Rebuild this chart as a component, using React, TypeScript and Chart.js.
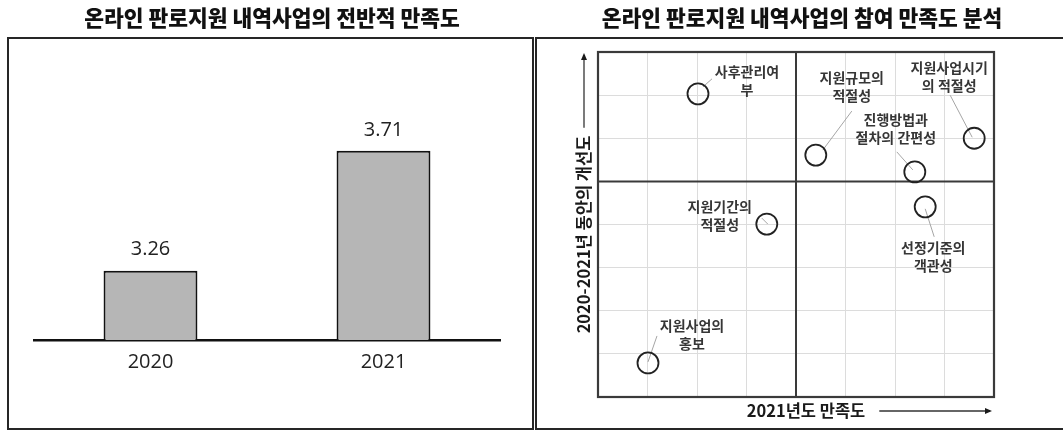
import React, { useEffect, useRef } from "react";
import { Chart, registerables } from "chart.js";

Chart.register(...registerables);

// ---------------- data ----------------
const BAR_TITLE = "온라인 판로지원 내역사업의 전반적 만족도";
const BAR_YEARS = ["2020", "2021"];
const BAR_VALUES = [3.26, 3.71];
const BAR_AXIS_MIN = 3;
const BAR_AXIS_MAX = 4;

const MAP_TITLE = "온라인 판로지원 내역사업의 참여 만족도 분석";
const MAP_X_TITLE = "2021년도 만족도";
const MAP_Y_TITLE = "2020-2021년 동안의 개선도";
const ITEM_LABELS = [
  ["사후관리여", "부"],
  ["지원규모의", "적절성"],
  ["진행방법과", "절차의 간편성"],
  ["지원사업시기", "의 적절성"],
  ["선정기준의", "객관성"],
  ["지원기간의", "적절성"],
  ["지원사업의", "홍보"],
];
const ITEM_SATISFACTION = [2.02, 4.4, 6.4, 7.6, 6.61, 3.41, 1.01];
const ITEM_IMPROVEMENT = [7.03, 5.61, 5.22, 6.0, 4.41, 4.01, 0.79];
const MAP_MIN = 0;
const MAP_MAX = 8;
const MAP_QUAD_X = 4;
const MAP_QUAD_Y = 5;

// label placement relative to each circle (pixels): text centre, first line y, leader line
const LABEL_LAYOUT = [
  { dx: 49, dy: -22, lead: [5, -7, 14, -15] },
  { dx: 36, dy: -77, lead: [7, -5, 36, -44] },
  { dx: -19, dy: -52, lead: [-2, -2, -18, -20] },
  { dx: -25, dy: -71, lead: [-2, -1, -24, -43] },
  { dx: 8, dy: 41, lead: [0, 2, 9, 30] },
  { dx: -47, dy: -17, lead: [1, 0, -5, -6] },
  { dx: 44, dy: -37, lead: [0, -1, 9, -27] },
];

const FONT_KR = '"Noto Sans CJK KR", "Noto Sans", sans-serif';
const FONT_NUM = '"Open Sans", "Noto Sans", sans-serif';

// ---------------- plugins ----------------
const barValuePlugin = {
  id: "barValues",
  afterDatasetsDraw(chart: any) {
    const ctx = chart.ctx;
    const meta = chart.getDatasetMeta(0);
    ctx.save();
    ctx.font = `20px ${FONT_NUM}`;
    ctx.fillStyle = "#222";
    ctx.textAlign = "center";
    ctx.textBaseline = "middle";
    meta.data.forEach((bar: any, i: number) => {
      ctx.fillText(BAR_VALUES[i].toFixed(2), bar.x, bar.y - 21);
    });
    ctx.restore();
  },
};

function arrowHead(ctx: any, x: number, y: number, dir: "up" | "right") {
  ctx.beginPath();
  if (dir === "up") {
    ctx.moveTo(x, y);
    ctx.lineTo(x - 3, y + 7);
    ctx.lineTo(x + 3, y + 7);
  } else {
    ctx.moveTo(x, y);
    ctx.lineTo(x - 7, y - 3);
    ctx.lineTo(x - 7, y + 3);
  }
  ctx.closePath();
  ctx.fill();
}

const mapPlugin = {
  id: "mapDecor",
  beforeDatasetsDraw(chart: any) {
    const ctx = chart.ctx;
    const { left, right, top, bottom } = chart.chartArea;
    const xs = chart.scales.x;
    const ys = chart.scales.y;
    ctx.save();
    // leader lines
    ctx.strokeStyle = "#a5a5a5";
    ctx.lineWidth = 1;
    const meta = chart.getDatasetMeta(0);
    meta.data.forEach((pt: any, i: number) => {
      const L = LABEL_LAYOUT[i].lead;
      ctx.beginPath();
      ctx.moveTo(pt.x + L[0], pt.y + L[1]);
      ctx.lineTo(pt.x + L[2], pt.y + L[3]);
      ctx.stroke();
    });
    // quadrant lines
    ctx.strokeStyle = "#3a3a3a";
    ctx.lineWidth = 2;
    const qx = xs.getPixelForValue(MAP_QUAD_X);
    const qy = ys.getPixelForValue(MAP_QUAD_Y);
    ctx.beginPath();
    ctx.moveTo(qx, top);
    ctx.lineTo(qx, bottom);
    ctx.moveTo(left, qy);
    ctx.lineTo(right, qy);
    ctx.stroke();
    // frame
    ctx.lineWidth = 2.2;
    ctx.strokeRect(left, top, right - left, bottom - top);
    ctx.restore();
  },
  afterDatasetsDraw(chart: any) {
    const ctx = chart.ctx;
    const meta = chart.getDatasetMeta(0);
    ctx.save();
    ctx.font = `bold 14px ${FONT_KR}`;
    ctx.fillStyle = "#363636";
    ctx.textAlign = "center";
    ctx.textBaseline = "middle";
    meta.data.forEach((pt: any, i: number) => {
      const lay = LABEL_LAYOUT[i];
      ITEM_LABELS[i].forEach((line, k) => {
        ctx.fillText(line, pt.x + lay.dx, pt.y + lay.dy + k * 18);
      });
    });

    // axis titles with arrows
    const { left, right, top, bottom } = chart.chartArea;
    ctx.font = `bold 16.5px ${FONT_KR}`;
    ctx.fillStyle = "#1a1a1a";
    ctx.strokeStyle = "#333";
    ctx.lineWidth = 1.3;
    // x title
    const xcx = (left + right) / 2 + 10;
    const xcy = bottom + 14;
    ctx.fillText(MAP_X_TITLE, xcx, xcy);
    const xw = ctx.measureText(MAP_X_TITLE).width;
    ctx.beginPath();
    ctx.moveTo(xcx + xw / 2 + 14, xcy);
    ctx.lineTo(right - 4, xcy);
    ctx.stroke();
    arrowHead(ctx, right - 2, xcy, "right");
    // y title
    const ycx = left - 14;
    const ycy = (top + bottom) / 2 + 10;
    const yw = ctx.measureText(MAP_Y_TITLE).width;
    ctx.save();
    ctx.translate(ycx, ycy);
    ctx.rotate(-Math.PI / 2);
    ctx.fillText(MAP_Y_TITLE, 0, 0);
    ctx.restore();
    ctx.beginPath();
    ctx.moveTo(ycx, ycy - yw / 2 - 8);
    ctx.lineTo(ycx, top + 3);
    ctx.stroke();
    arrowHead(ctx, ycx, top + 1, "up");
    ctx.restore();
  },
};

// ---------------- components ----------------
function BarPanel() {
  const ref = useRef<HTMLCanvasElement>(null);
  useEffect(() => {
    const chart = new Chart(ref.current as HTMLCanvasElement, {
      type: "bar",
      data: {
        labels: BAR_YEARS,
        datasets: [
          {
            data: BAR_VALUES,
            backgroundColor: "#b6b6b6",
            borderColor: "#111",
            borderWidth: 2,
            borderSkipped: "start",
            categoryPercentage: 1,
            barPercentage: 0.403,
          },
        ],
      },
      options: {
        responsive: false,
        animation: false,
        devicePixelRatio: 1,
        events: [],
        layout: { padding: { left: 34, right: 34, top: 0, bottom: 46 } },
        plugins: {
          legend: { display: false },
          tooltip: { enabled: false },
          title: {
            display: true,
            text: BAR_TITLE,
            color: "#111",
            font: { family: FONT_KR, size: 21.5, weight: "900" },
            padding: { top: 5, bottom: 42.8 },
          },
        },
        scales: {
          x: {
            grid: { display: false, drawTicks: false },
            border: { display: true, color: "#111", width: 2.5 },
            ticks: { color: "#222", font: { family: FONT_NUM, size: 20 }, padding: 10 },
          },
          y: {
            position: "right",
            min: BAR_AXIS_MIN,
            max: BAR_AXIS_MAX,
            grid: { display: false, drawTicks: false },
            border: { display: false },
            ticks: { display: false },
            afterFit: (s: any) => {
              s.width = 10;
            },
          },
        },
      } as any,
      plugins: [barValuePlugin],
    });
    return () => chart.destroy();
  }, []);
  return (
    <canvas
      ref={ref}
      width={544}
      height={430}
      style={{ position: "absolute", left: 0, top: 0, width: 544, height: 430 }}
    />
  );
}

function MapPanel() {
  const ref = useRef<HTMLCanvasElement>(null);
  useEffect(() => {
    const points = ITEM_SATISFACTION.map((x, i) => ({ x, y: ITEM_IMPROVEMENT[i] }));
    const chart = new Chart(ref.current as HTMLCanvasElement, {
      type: "scatter",
      data: {
        datasets: [
          {
            data: points,
            pointRadius: 10.5,
            pointBorderWidth: 1.8,
            pointBorderColor: "#222",
            pointBackgroundColor: "rgba(255,255,255,0)",
          },
        ],
      },
      options: {
        responsive: false,
        animation: false,
        devicePixelRatio: 1,
        events: [],
        layout: { padding: { left: 62, right: 57, top: 0, bottom: 33 } },
        plugins: {
          legend: { display: false },
          tooltip: { enabled: false },
          title: {
            display: true,
            text: MAP_TITLE,
            color: "#111",
            font: { family: FONT_KR, size: 21.5, weight: "900" },
            padding: { top: 5, bottom: 21.2 },
          },
        },
        scales: {
          x: {
            type: "linear",
            min: MAP_MIN,
            max: MAP_MAX,
            ticks: { display: false, stepSize: 1 },
            grid: { color: "#dcdcdc", lineWidth: 1, drawTicks: false },
            border: { display: false },
          },
          y: {
            type: "linear",
            position: "right",
            min: MAP_MIN,
            max: MAP_MAX,
            ticks: { display: false, stepSize: 1 },
            grid: { color: "#dcdcdc", lineWidth: 1, drawTicks: false },
            border: { display: false },
            afterFit: (s: any) => {
              s.width = 12;
            },
          },
        },
      } as any,
      plugins: [mapPlugin],
    });
    return () => chart.destroy();
  }, []);
  return (
    <canvas
      ref={ref}
      width={527}
      height={430}
      style={{ position: "absolute", left: 536, top: 0, width: 527, height: 430 }}
    />
  );
}

export default function App() {
  const box = {
    position: "absolute" as const,
    boxSizing: "border-box" as const,
    border: "2.5px solid #262626",
  };
  return (
    <div
      style={{
        position: "fixed",
        left: 0,
        top: 0,
        width: 1063,
        height: 430,
        overflow: "hidden",
        background: "#fff",
      }}
    >
      <div style={{ ...box, left: 7, top: 37, width: 527, height: 393 }} />
      <div style={{ ...box, left: 535, top: 37, width: 540, height: 393 }} />
      <BarPanel />
      <MapPanel />
    </div>
  );
}
